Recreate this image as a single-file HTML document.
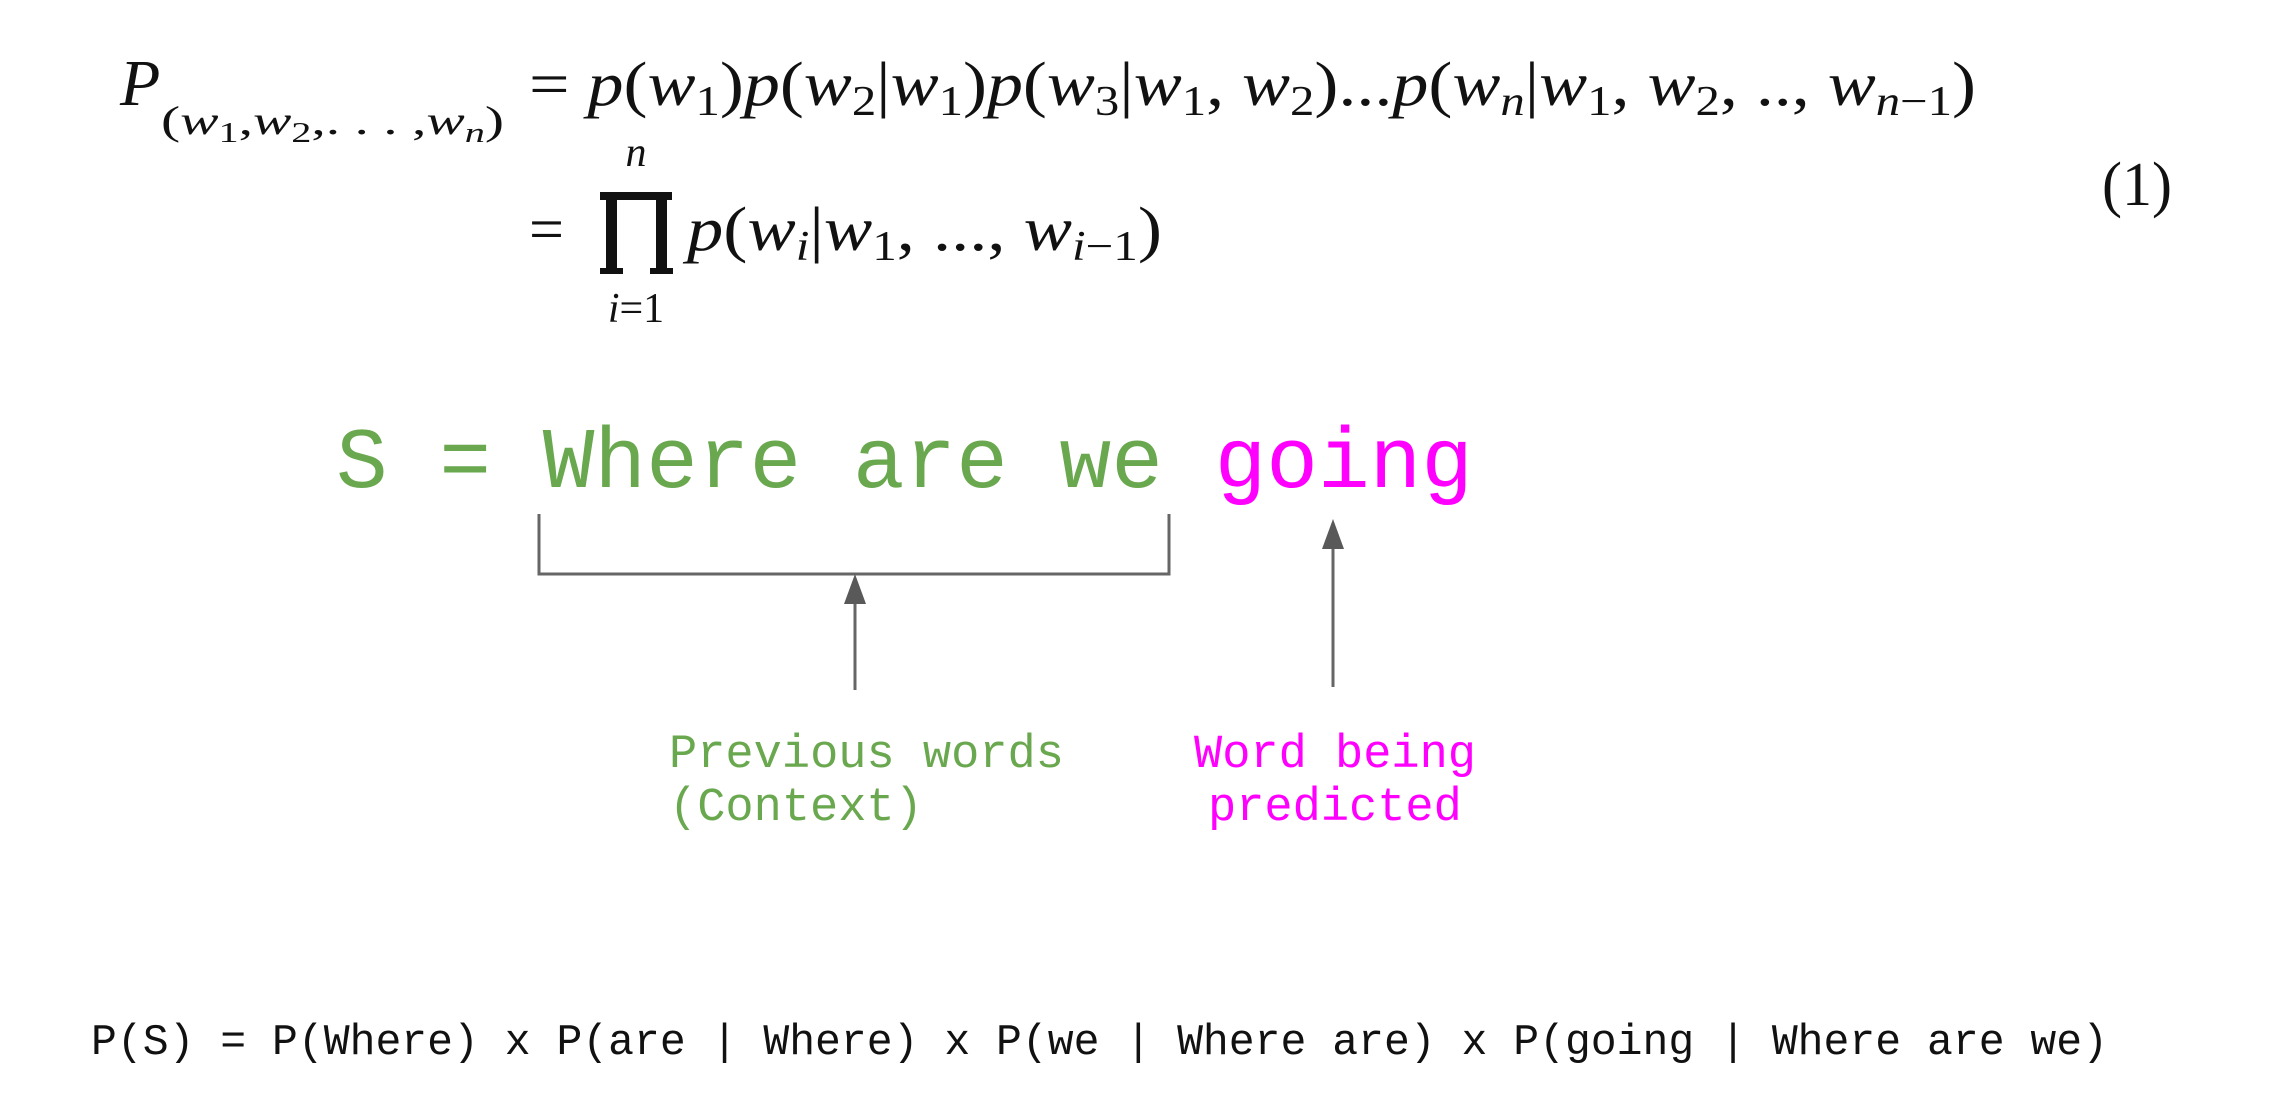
<!DOCTYPE html>
<html><head><meta charset="utf-8"><style>
html,body{margin:0;padding:0;background:#fff;}
svg{display:block;}
</style></head><body>
<svg width="2280" height="1106" viewBox="0 0 2280 1106" xmlns="http://www.w3.org/2000/svg">
<rect width="2280" height="1106" fill="#fff"/>
<g font-family="Liberation Serif, serif" fill="#111">
  <text x="120" y="105" font-size="66" font-style="italic">P</text>
  <text x="161" y="134" font-size="40" font-style="italic" textLength="343" lengthAdjust="spacingAndGlyphs"><tspan font-style="normal">(</tspan>w<tspan font-size="28" dy="8" font-style="normal">1</tspan><tspan dy="-8" font-style="normal">,</tspan>w<tspan font-size="28" dy="8" font-style="normal">2</tspan><tspan dy="-8" font-style="normal">,. . . ,</tspan>w<tspan font-size="28" dy="8">n</tspan><tspan dy="-8" font-style="normal">)</tspan></text>
  <text x="529" y="105" font-size="62" font-style="italic" textLength="1447" lengthAdjust="spacingAndGlyphs"><tspan font-style="normal">= </tspan>p<tspan font-style="normal">(</tspan>w<tspan font-size="42" dy="10" font-style="normal">1</tspan><tspan dy="-10" font-style="normal">)</tspan>p<tspan font-style="normal">(</tspan>w<tspan font-size="42" dy="10" font-style="normal">2</tspan><tspan dy="-10" font-style="normal">|</tspan>w<tspan font-size="42" dy="10" font-style="normal">1</tspan><tspan dy="-10" font-style="normal">)</tspan>p<tspan font-style="normal">(</tspan>w<tspan font-size="42" dy="10" font-style="normal">3</tspan><tspan dy="-10" font-style="normal">|</tspan>w<tspan font-size="42" dy="10" font-style="normal">1</tspan><tspan dy="-10" font-style="normal">, </tspan>w<tspan font-size="42" dy="10" font-style="normal">2</tspan><tspan dy="-10" font-style="normal">)...</tspan>p<tspan font-style="normal">(</tspan>w<tspan font-size="42" dy="10">n</tspan><tspan dy="-10" font-style="normal">|</tspan>w<tspan font-size="42" dy="10" font-style="normal">1</tspan><tspan dy="-10" font-style="normal">, </tspan>w<tspan font-size="42" dy="10" font-style="normal">2</tspan><tspan dy="-10" font-style="normal">, .., </tspan>w<tspan font-size="42" dy="10">n<tspan font-style="normal">−1</tspan></tspan><tspan dy="-10" font-style="normal">)</tspan></text>
  <text x="529" y="250" font-size="62">=</text>
  <text x="636" y="166" font-size="42" font-style="italic" text-anchor="middle">n</text>
  <rect x="600" y="192" width="72" height="8"/>
  <rect x="606" y="192" width="11" height="82"/>
  <rect x="656" y="192" width="11" height="82"/>
  <rect x="600" y="268" width="23" height="6"/>
  <rect x="650" y="268" width="23" height="6"/>
  <text x="636" y="322" font-size="42" text-anchor="middle"><tspan font-style="italic">i</tspan>=1</text>
  <text x="687" y="250" font-size="62" font-style="italic" textLength="475" lengthAdjust="spacingAndGlyphs">p<tspan font-style="normal">(</tspan>w<tspan font-size="42" dy="10">i</tspan><tspan dy="-10" font-style="normal">|</tspan>w<tspan font-size="42" dy="10" font-style="normal">1</tspan><tspan dy="-10" font-style="normal">, ..., </tspan>w<tspan font-size="42" dy="10">i<tspan font-style="normal">−1</tspan></tspan><tspan dy="-10" font-style="normal">)</tspan></text>
  <text x="2102" y="205" font-size="62" textLength="70" lengthAdjust="spacingAndGlyphs">(1)</text>
</g>
<g font-family="Liberation Mono, monospace">
  <text x="336" y="487" font-size="86" fill="#6aa84f" textLength="1137" lengthAdjust="spacingAndGlyphs">S = Where are we <tspan fill="#ff00ff">going</tspan></text>
  <text x="669" y="767" font-size="47" fill="#6aa84f" textLength="395" lengthAdjust="spacingAndGlyphs">Previous words</text>
  <text x="669" y="820" font-size="47" fill="#6aa84f">(Context)</text>
  <text x="1194" y="767" font-size="47" fill="#ff00ff" textLength="282" lengthAdjust="spacingAndGlyphs">Word being</text>
  <text x="1208" y="820" font-size="47" fill="#ff00ff">predicted</text>
  <text x="91" y="1054" font-size="44" fill="#111" textLength="2017" lengthAdjust="spacingAndGlyphs">P(S) = P(Where) x P(are | Where) x P(we | Where are) x P(going | Where are we)</text>
</g>
<g stroke="#666" stroke-width="3" fill="none">
  <polyline points="539,514 539,574 1169,574 1169,514"/>
  <line x1="855" y1="690" x2="855" y2="600"/>
  <line x1="1333" y1="687" x2="1333" y2="545"/>
</g>
<polygon points="855,574 844,604 866,604" fill="#595959"/>
<polygon points="1333,519 1322,549 1344,549" fill="#595959"/>
</svg>
</body></html>
